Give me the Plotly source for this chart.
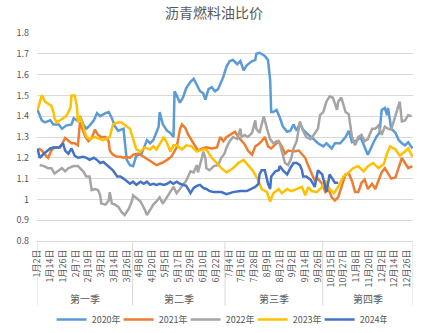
import pandas as pd
import plotly.graph_objects as go

TITLE = "沥青燃料油比价"
QUARTER_LABELS = ["第一季", "第二季", "第三季", "第四季"]
SKIPPED_DAYS = ["4/4", "5/1", "5/2", "5/3", "10/1", "10/2", "10/3", "10/4", "10/5", "10/6", "10/7"]
SERIES_NAMES = ["2020年", "2021年", "2022年", "2023年", "2024年"]
COLORS = ["#5B9BD5", "#ED7D31", "#A5A5A5", "#FFC000", "#4472C4"]

s2020 = [("1/2",1.43),("1/6",1.38),("1/9",1.37),("1/14",1.38),("1/17",1.36),("1/22",1.36),("1/25",1.34),("1/29",1.355),
 ("2/3",1.36),("2/5",1.39),("2/8",1.38),("2/11",1.40),("2/14",1.36),("2/17",1.34),("2/20",1.355),("2/24",1.38),("2/27",1.415),
 ("3/1",1.40),("3/6",1.415),("3/9",1.42),("3/12",1.39),("3/15",1.35),("3/18",1.33),("3/23",1.34),("3/24",1.285),("3/26",1.19),
 ("3/29",1.165),("4/1",1.16),("4/5",1.21),("4/10",1.22),("4/15",1.285),("4/18",1.27),("4/21",1.285),("4/26",1.35),("4/27",1.42),
 ("4/30",1.36),("5/7",1.33),("5/10",1.32),("5/13",1.30),("5/14",1.52),("5/16",1.50),("5/19",1.465),("5/22",1.49),("5/25",1.535),
 ("5/29",1.565),("6/1",1.58),("6/4",1.55),("6/7",1.52),("6/10",1.51),("6/12",1.48),("6/15",1.53),("6/18",1.54),("6/21",1.52),
 ("6/24",1.53),("6/29",1.59),("7/2",1.64),("7/5",1.665),("7/8",1.67),("7/12",1.65),("7/15",1.665),("7/18",1.62),("7/21",1.645),
 ("7/26",1.665),("7/29",1.67),("7/30",1.70),("8/2",1.705),("8/7",1.69),("8/10",1.67),("8/12",1.575),("8/13",1.42),("8/15",1.42),
 ("8/18",1.43),("8/21",1.395),("8/24",1.35),("8/28",1.325),("8/31",1.33),("9/3",1.36),("9/6",1.33),("9/9",1.365),("9/12",1.335),
 ("9/15",1.32),("9/20",1.30),("9/23",1.285),("9/26",1.27),("10/8",1.255),("10/11",1.27),("10/16",1.245),("10/19",1.27),
 ("10/24",1.27),("10/29",1.30),("11/1",1.33),("11/4",1.275),("11/9",1.285),("11/12",1.30),("11/15",1.26),("11/19",1.215),
 ("11/24",1.27),("11/27",1.30),("11/30",1.32),("12/2",1.43),("12/5",1.44),("12/7",1.405),("12/8",1.44),("12/11",1.34),
 ("12/15",1.32),("12/18",1.285),("12/21",1.27),("12/24",1.26),("12/27",1.275),("12/31",1.245)]

s2021 = [("1/3",1.245),("1/6",1.235),("1/9",1.215),("1/12",1.20),("1/15",1.235),("1/18",1.25),("1/22",1.25),("1/25",1.265),
 ("1/28",1.295),("1/31",1.28),("2/3",1.27),("2/6",1.27),("2/9",1.26),("2/11",1.37),("2/13",1.34),("2/16",1.30),("2/19",1.28),
 ("2/22",1.295),("2/25",1.335),("2/28",1.31),("3/2",1.30),("3/6",1.30),("3/9",1.28),("3/10",1.235),("3/13",1.215),("3/17",1.205),
 ("3/20",1.205),("3/23",1.20),("3/26",1.205),("3/29",1.20),("4/1",1.215),("4/7",1.22),("4/12",1.205),("4/16",1.19),("4/21",1.175),
 ("4/24",1.165),("4/29",1.175),("5/7",1.19),("5/11",1.205),("5/16",1.25),("5/19",1.335),("5/21",1.36),("5/24",1.345),("5/27",1.31),
 ("6/1",1.27),("6/5",1.235),("6/9",1.245),("6/13",1.25),("6/18",1.245),("6/23",1.25),("6/26",1.30),("6/29",1.28),("7/2",1.30),
 ("7/5",1.31),("7/10",1.325),("7/13",1.30),("7/16",1.28),("7/19",1.265),("7/22",1.235),("7/26",1.215),("7/29",1.255),("8/1",1.265),
 ("8/4",1.28),("8/7",1.30),("8/10",1.255),("8/13",1.245),("8/17",1.265),("8/20",1.28),("8/23",1.255),("8/26",1.22),("8/29",1.235),
 ("9/3",1.23),("9/8",1.235),("9/11",1.215),("9/14",1.20),("9/17",1.16),("9/20",1.125),("9/23",1.09),("9/26",1.10),("9/30",1.075),
 ("10/10",1.035),("10/13",1.05),("10/16",1.01),("10/19",0.995),("10/22",1.01),("10/25",1.06),("10/29",1.12),("11/1",1.125),
 ("11/4",1.09),("11/7",1.035),("11/10",1.035),("11/13",1.08),("11/16",1.095),("11/19",1.05),("11/23",1.075),("11/26",1.05),
 ("11/29",1.09),("12/2",1.13),("12/5",1.15),("12/8",1.125),("12/11",1.10),("12/15",1.105),("12/18",1.15),("12/21",1.20),
 ("12/24",1.175),("12/27",1.15),("12/31",1.16)]

s2022 = [("1/4",1.165),("1/8",1.16),("1/12",1.15),("1/15",1.15),("1/18",1.125),("1/22",1.14),("1/25",1.15),("1/28",1.135),
 ("1/31",1.15),("2/5",1.16),("2/9",1.16),("2/14",1.135),("2/17",1.11),("2/20",1.11),("2/22",1.045),("2/25",1.05),("2/28",1.045),
 ("3/1",1.02),("3/2",0.98),("3/6",0.975),("3/9",0.995),("3/10",1.035),("3/12",0.98),("3/15",0.975),("3/18",0.965),("3/21",0.94),
 ("3/24",0.925),("3/28",0.955),("3/31",0.995),("4/1",1.02),("4/5",1.005),("4/9",0.99),("4/13",0.95),("4/15",0.925),("4/18",0.95),
 ("4/21",0.975),("4/24",0.99),("4/27",1.01),("4/30",0.98),("5/7",1.01),("5/10",1.035),("5/13",1.06),("5/16",1.03),("5/19",1.05),
 ("5/22",1.07),("5/25",1.09),("5/29",1.135),("6/1",1.13),("6/4",1.165),("6/5",1.13),("6/9",1.205),("6/10",1.23),("6/12",1.20),
 ("6/13",1.15),("6/16",1.14),("6/20",1.16),("6/24",1.165),("6/27",1.20),("6/30",1.22),("7/2",1.25),("7/5",1.28),("7/8",1.30),
 ("7/12",1.29),("7/15",1.34),("7/16",1.30),("7/19",1.31),("7/22",1.30),("7/26",1.32),("7/29",1.38),("7/30",1.34),("8/2",1.32),
 ("8/6",1.40),("8/9",1.34),("8/12",1.29),("8/15",1.27),("8/18",1.28),("8/21",1.27),("8/24",1.22),("8/26",1.175),("8/29",1.165),
 ("9/1",1.20),("9/3",1.245),("9/6",1.28),("9/9",1.375),("9/12",1.33),("9/15",1.30),("9/19",1.29),("9/22",1.31),("9/26",1.34),
 ("9/28",1.405),("10/8",1.42),("10/11",1.47),("10/14",1.495),("10/17",1.49),("10/21",1.43),("10/22",1.47),("10/25",1.49),
 ("10/29",1.42),("11/1",1.41),("11/4",1.30),("11/7",1.26),("11/10",1.30),("11/13",1.31),("11/16",1.28),("11/19",1.29),
 ("11/23",1.34),("11/26",1.34),("11/29",1.355),("12/2",1.31),("12/5",1.35),("12/8",1.34),("12/11",1.335),("12/15",1.405),
 ("12/18",1.455),("12/19",1.47),("12/21",1.375),("12/24",1.38),("12/27",1.405),("12/30",1.40)]

s2023 = [("1/2",1.43),("1/6",1.50),("1/9",1.47),("1/12",1.46),("1/15",1.45),("1/17",1.42),("1/18",1.39),("1/20",1.37),
 ("1/29",1.40),("2/2",1.44),("2/3",1.50),("2/6",1.50),("2/8",1.45),("2/9",1.37),("2/11",1.40),("2/14",1.35),("2/17",1.30),
 ("2/20",1.29),("2/25",1.30),("3/1",1.29),("3/4",1.285),("3/10",1.30),("3/13",1.36),("3/17",1.37),("3/21",1.37),("3/26",1.35),
 ("3/29",1.34),("4/5",1.24),("4/9",1.23),("4/13",1.25),("4/18",1.24),("4/21",1.255),("4/24",1.24),("5/4",1.30),("5/7",1.27),
 ("5/10",1.23),("5/13",1.26),("5/16",1.26),("5/21",1.24),("5/25",1.26),("5/30",1.255),("6/4",1.23),("6/9",1.24),("6/13",1.24),
 ("6/18",1.20),("6/23",1.175),("6/27",1.15),("7/2",1.13),("7/8",1.15),("7/13",1.175),("7/18",1.19),("7/23",1.16),("7/27",1.135),
 ("8/1",1.09),("8/4",1.05),("8/9",1.035),("8/12",0.99),("8/15",1.03),("8/20",1.05),("8/23",1.03),("8/28",1.05),("9/1",1.04),
 ("9/6",1.05),("9/11",1.06),("9/14",1.02),("9/17",1.06),("9/20",1.04),("9/25",1.035),("9/30",1.06),("10/10",1.09),("10/14",1.05),
 ("10/18",1.03),("10/22",1.06),("10/27",1.11),("11/1",1.13),("11/5",1.15),("11/10",1.16),("11/15",1.135),("11/19",1.16),
 ("11/24",1.175),("11/29",1.15),("12/4",1.17),("12/7",1.22),("12/10",1.255),("12/15",1.24),("12/19",1.21),("12/24",1.23),
 ("12/27",1.245),("12/31",1.205)]

s2024 = [("1/2",1.245),("1/4",1.20),("1/8",1.22),("1/11",1.235),("1/14",1.245),("1/17",1.25),("1/23",1.25),("1/26",1.27),
 ("1/28",1.235),("1/31",1.22),("2/3",1.245),("2/6",1.21),("2/9",1.20),("2/14",1.205),("2/17",1.20),("2/20",1.19),("2/24",1.20),
 ("2/27",1.19),("3/1",1.175),("3/4",1.18),("3/7",1.165),("3/10",1.15),("3/13",1.14),("3/17",1.11),("3/20",1.11),("3/23",1.10),
 ("3/26",1.085),("3/29",1.075),("4/1",1.085),("4/5",1.07),("4/9",1.085),("4/12",1.075),("4/15",1.085),("4/18",1.07),("4/21",1.075),
 ("4/24",1.07),("4/27",1.075),("5/4",1.07),("5/7",1.075),("5/10",1.085),("5/13",1.075),("5/16",1.085),("5/19",1.075),("5/22",1.07),
 ("5/25",1.065),("5/29",1.03),("6/1",1.055),("6/4",1.065),("6/7",1.07),("6/10",1.055),("6/13",1.05),("6/16",1.04),("6/20",1.035),
 ("6/27",1.035),("7/2",1.025),("7/8",1.035),("7/15",1.04),("7/21",1.04),("7/26",1.055),("7/29",1.06),("8/1",1.075),("8/2",1.12),
 ("8/4",1.14),("8/7",1.14),("8/10",1.075),("8/12",1.05),("8/13",1.11),("8/17",1.135),("8/20",1.14),("8/21",1.16),("8/24",1.14),
 ("8/28",1.12),("8/31",1.15),("9/3",1.175),("9/6",1.175),("9/9",1.165),("9/11",1.14),("9/12",1.11),("9/15",1.11),("9/19",1.095),
 ("9/22",1.07),("9/23",1.06),("9/26",1.14),("9/30",1.12),("10/10",1.06),("10/11",1.035),("10/14",1.12),("10/17",1.095),
 ("10/19",1.08),("10/22",1.08)]

SERIES = [s2020, s2021, s2022, s2023, s2024]
FONT = "Noto Sans CJK SC"
GREY = "#595959"
GRID = "#D9D9D9"


def label(md):
    m, d = md.split("/")
    return f"{int(m)}月{int(d)}日"


# category axis: every calendar day of the year, minus the skipped days
categories, quarter_of = [], []
for day in pd.date_range("2020-01-02", "2020-12-31"):
    key = f"{day.month}/{day.day}"
    if key in SKIPPED_DAYS:
        continue
    categories.append(f"{day.month}月{day.day}日")
    quarter_of.append((day.month - 1) // 3)
n = len(categories)
tick_labels = categories[::12]

fig = go.Figure()
for name, color, s in zip(SERIES_NAMES, COLORS, SERIES):
    pts = [(label(d), v) for d, v in s if label(d) in categories]
    fig.add_trace(go.Scatter(
        x=[p[0] for p in pts], y=[p[1] for p in pts], name=name, mode="lines",
        line=dict(color=color, width=2.5), hoverinfo="skip"))

# quarter group labels and separators
bounds = [-0.5]
for i in range(1, n):
    if quarter_of[i] != quarter_of[i - 1]:
        bounds.append(i - 0.5)
bounds.append(n - 0.5)
for q, text in enumerate(QUARTER_LABELS):
    idx = [i for i in range(n) if quarter_of[i] == q]
    fig.add_annotation(x=(idx[0] + idx[-1]) / 2, xref="x", y=-0.277, yref="paper",
                       text=text, showarrow=False, yanchor="middle",
                       font=dict(size=10, color=GREY, family=FONT))
for b in bounds:
    fig.add_shape(type="line", xref="x", yref="paper", x0=b, x1=b, y0=0, y1=-0.31,
                  line=dict(color=GRID, width=1))

fig.update_layout(
    width=428, height=333,
    margin=dict(l=37, r=15, t=33, b=92, autoexpand=False),
    paper_bgcolor="white", plot_bgcolor="white",
    font=dict(family=FONT, color=GREY),
    title=dict(text=TITLE, x=0.5, xanchor="center", xref="container",
               y=1 - 13 / 333, yref="container", yanchor="middle",
               font=dict(size=14, color=GREY, family=FONT)),
    legend=dict(orientation="h", x=0.512, xanchor="center", xref="container",
                y=13.5 / 333, yref="container", yanchor="middle",
                font=dict(size=9, color=GREY, family=FONT),
                itemwidth=30, entrywidth=22, bgcolor="rgba(0,0,0,0)"),
)
fig.update_xaxes(type="category", categoryorder="array", categoryarray=categories,
                 range=[-0.5, n - 0.5], tickmode="array", tickvals=tick_labels,
                 ticktext=tick_labels, tickangle=-90, ticks="", showgrid=False,
                 showline=True, linecolor=GRID, linewidth=1, automargin=False,
                 ticklabelstandoff=4, tickfont=dict(size=9, color=GREY, family=FONT))
fig.update_yaxes(range=[0.8, 1.8], tick0=0.8, dtick=0.1, showgrid=True, gridcolor=GRID,
                 gridwidth=1, zeroline=False, showline=False, ticks="", automargin=False,
                 ticklabelstandoff=7, tickfont=dict(size=9, color=GREY, family=FONT))

fig.write_html("out.html")
